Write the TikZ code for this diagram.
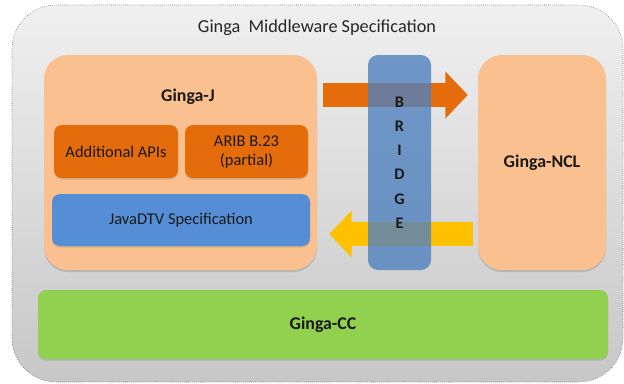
\documentclass[tikz,border=0pt]{standalone}
\usepackage{fontspec}
\setmainfont{Carlito}
\usepackage{xcolor}
\usetikzlibrary{positioning,arrows.meta,shadows}

\definecolor{peach}{HTML}{FAC090}
\definecolor{burnt}{HTML}{E46C0A}
\definecolor{specblue}{HTML}{558ED5}
\definecolor{bridgeblue}{HTML}{4F81BD}
\definecolor{amber}{HTML}{FFC000}
\definecolor{lime}{HTML}{92D050}

\begin{document}
\begin{tikzpicture}[
    panel/.style={fill=peach, rounded corners=0.6cm, minimum height=5.375cm,
        drop shadow={shadow xshift=0pt, shadow yshift=-0.05cm, opacity=0.35}},
    part/.style={fill=#1, rounded corners=0.2cm, minimum height=1.3cm, align=center,
        font=\fontsize{11.7}{13.5}\selectfont, text=black!90,
        drop shadow={shadow xshift=0pt, shadow yshift=-0.04cm, opacity=0.3}},
    fatarrow/.style={line width=0.6cm, draw=#1, -{Triangle[length=0.56cm, width=1.15cm]}},
    heading/.style={font=\fontsize{12.7}{15}\selectfont\bfseries, text=black!90},
]
\useasboundingbox (0,0) rectangle (15.6,9.575);

% Outer frame
\draw[draw=black!60, densely dotted, rounded corners=1.1cm, top color=black!6, bottom color=black!22]
    (0.3,0.025) rectangle (15.575,9.45);
\node[font=\fontsize{13}{15}\selectfont, text=black!85] (title) at (7.925, 8.875)
    {Ginga\ \ Middleware Specification};

% Ginga-J
\node[panel, minimum width=6.825cm] (gj) at (4.5125, 5.5125) {};
\node[heading] (gjlabel) at (4.7, 7.15) {Ginga-J};
\node[part=burnt, minimum width=3.1cm, minimum height=1.325cm] (apis) at (2.9, 5.7875) {Additional APIs};
\node[part=burnt, minimum width=3.075cm, minimum height=1.325cm] (arib) at (6.1625, 5.7875) {ARIB B.23\\(partial)};
\node[part=specblue, minimum width=6.45cm] (javadtv) at (4.525, 4.075) {JavaDTV Specification};

% Ginga-NCL
\node[panel, minimum width=3.2cm] (ncl) at (13.55, 5.5125) {};
\node[heading] (ncllabel) at (13.55, 5.5) {Ginga-NCL};

% Arrows
\draw[fatarrow=burnt] ([shift={(0.15,1.6875)}]gj.east) -- ([shift={(-0.25,1.6875)}]ncl.west);
\draw[fatarrow=amber] ([shift={(-0.125,-1.7875)}]ncl.west) -- ([shift={(0.3,-1.7875)}]gj.east);

% Bridge
\node[fill=bridgeblue, opacity=0.8, text opacity=1, rounded corners=0.25cm,
    minimum width=1.575cm, minimum height=5.375cm, align=center,
    font=\fontsize{11.5}{17.2}\selectfont\bfseries, text=black!90] (bridge) at (9.9875, 5.5125)
    {B\\R\\I\\D\\G\\E};

% Ginga-CC
\node[part=lime, minimum width=14.25cm, minimum height=1.725cm, font=\fontsize{12.7}{15}\selectfont\bfseries]
    (gcc) at (8.075, 1.4625) {Ginga-CC};

\end{tikzpicture}
\end{document}
